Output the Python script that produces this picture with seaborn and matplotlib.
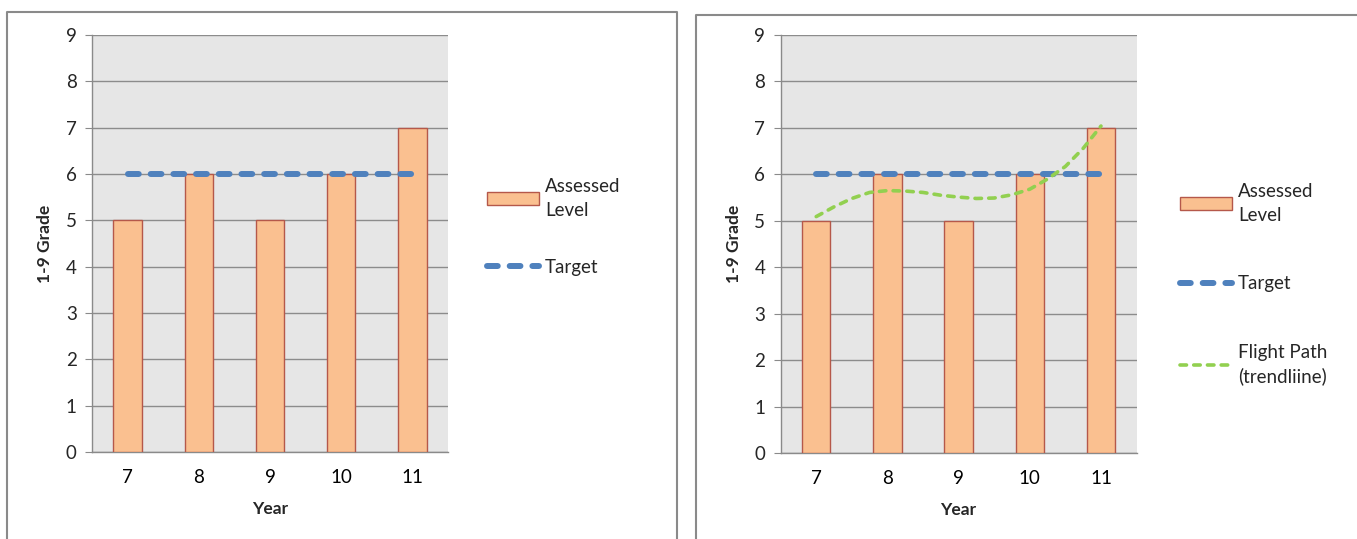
import numpy as np
import matplotlib
matplotlib.use("Agg")
import matplotlib.pyplot as plt
import seaborn as sns

# data
years = ["7", "8", "9", "10", "11"]
assessed = [5, 6, 5, 6, 7]
target = [6, 6, 6, 6, 6]
# flight path trendline, read at quarter-year steps
trend_year = [7, 7.25, 7.5, 7.75, 8, 8.25, 8.5, 8.75, 9,
              9.25, 9.5, 9.75, 10, 10.25, 10.5, 10.75, 11]
trend_value = [5.09, 5.30, 5.48, 5.61, 5.65, 5.64, 5.61, 5.55, 5.51,
               5.48, 5.49, 5.56, 5.68, 5.90, 6.17, 6.56, 7.04]

W, H = 1357, 539
bar_fill = "#FAC090"
bar_edge = "#B5584A"
target_col = "#4F81BD"
trend_col = "#92D050"
grey = "#8A8A8A"
fs = 13.5

sns.set_style("white")
plt.rcParams["font.family"] = ["Lato", "DejaVu Sans"]

fig = plt.figure(figsize=(W / 100, H / 100), dpi=100)

# panel frames (excel chart borders)
def frame(x0, y0, x1):
    fig.add_artist(plt.Line2D([x0 / W, x0 / W, x1 / W, x1 / W], [0, 1 - y0 / H, 1 - y0 / H, 0],
                              transform=fig.transFigure, color=grey, lw=1.5))

frame(7, 12, 677)
frame(696, 15, 1400)


def draw_chart(ax, show_trend, legend_xy, spacing):
    ax.set_facecolor("#E6E6E6")
    sns.barplot(x=years, y=assessed, ax=ax, color=bar_fill, edgecolor=bar_edge,
                linewidth=1, width=0.4, saturation=1, errorbar=None, zorder=3)
    pos = np.arange(len(years))
    sns.lineplot(x=pos, y=target, ax=ax, color=target_col, lw=4.3,
                 linestyle=(0, (1.8, 2.0)), dash_capstyle="round", zorder=4)
    labels = ["Assessed\nLevel", "Target"]
    handles = [ax.containers[0], ax.lines[0]]
    if show_trend:
        tx = np.array(trend_year) - int(years[0])
        sns.lineplot(x=tx, y=trend_value, ax=ax, color=trend_col, lw=2.6,
                     linestyle=(0, (1.8, 2.0)), dash_capstyle="round", zorder=5)
        handles.append(ax.lines[1])
        labels.append("Flight Path\n(trendliine)")

    ax.set_xlim(-0.5, len(years) - 0.5)
    ax.set_ylim(0, 9)
    ax.set_yticks(range(0, 10))
    ax.grid(axis="y", color="#8C8C8C", lw=1, zorder=0)
    ax.set_axisbelow(True)
    for s in ["top", "right"]:
        ax.spines[s].set_visible(False)
    for s in ["left", "bottom"]:
        ax.spines[s].set_color(grey)
        ax.spines[s].set_linewidth(1)

    ax.set_xticks(pos)
    ax.set_xticklabels(years)
    ax.set_xticks(np.arange(-0.5, len(years)), minor=True)
    ax.tick_params(axis="x", which="major", length=0, pad=12, labelsize=fs, colors="black")
    ax.tick_params(axis="x", which="minor", length=5, color=grey, direction="out")
    ax.tick_params(axis="y", length=5, color=grey, pad=6, labelsize=fs, left=True)

    ax.set_xlabel("Year", fontsize=12.5, fontweight="bold")
    ax.set_ylabel("1-9 Grade", fontsize=12.5, fontweight="bold")
    ax.yaxis.set_label_coords(-39 / 356, 0.5)
    ax.xaxis.set_label_coords(0.5, -49 / 417)

    leg = ax.legend(handles, labels, loc="upper left",
                    bbox_to_anchor=(legend_xy[0] / W, 1 - legend_xy[1] / H),
                    bbox_transform=fig.transFigure, frameon=False, fontsize=fs,
                    handlelength=2.75, handletextpad=0.35, borderpad=0, borderaxespad=0,
                    labelspacing=spacing)
    for t in leg.get_texts():
        t.set_linespacing(1.47)


ax1 = fig.add_axes([92 / W, 1 - 452 / H, 356 / W, 417 / H])
draw_chart(ax1, False, (487, 178), 2.15)

ax2 = fig.add_axes([780.6 / W, 1 - 453 / H, 356 / W, 418 / H])
draw_chart(ax2, True, (1180, 183), 2.75)

fig.savefig("out.png", dpi=100)
